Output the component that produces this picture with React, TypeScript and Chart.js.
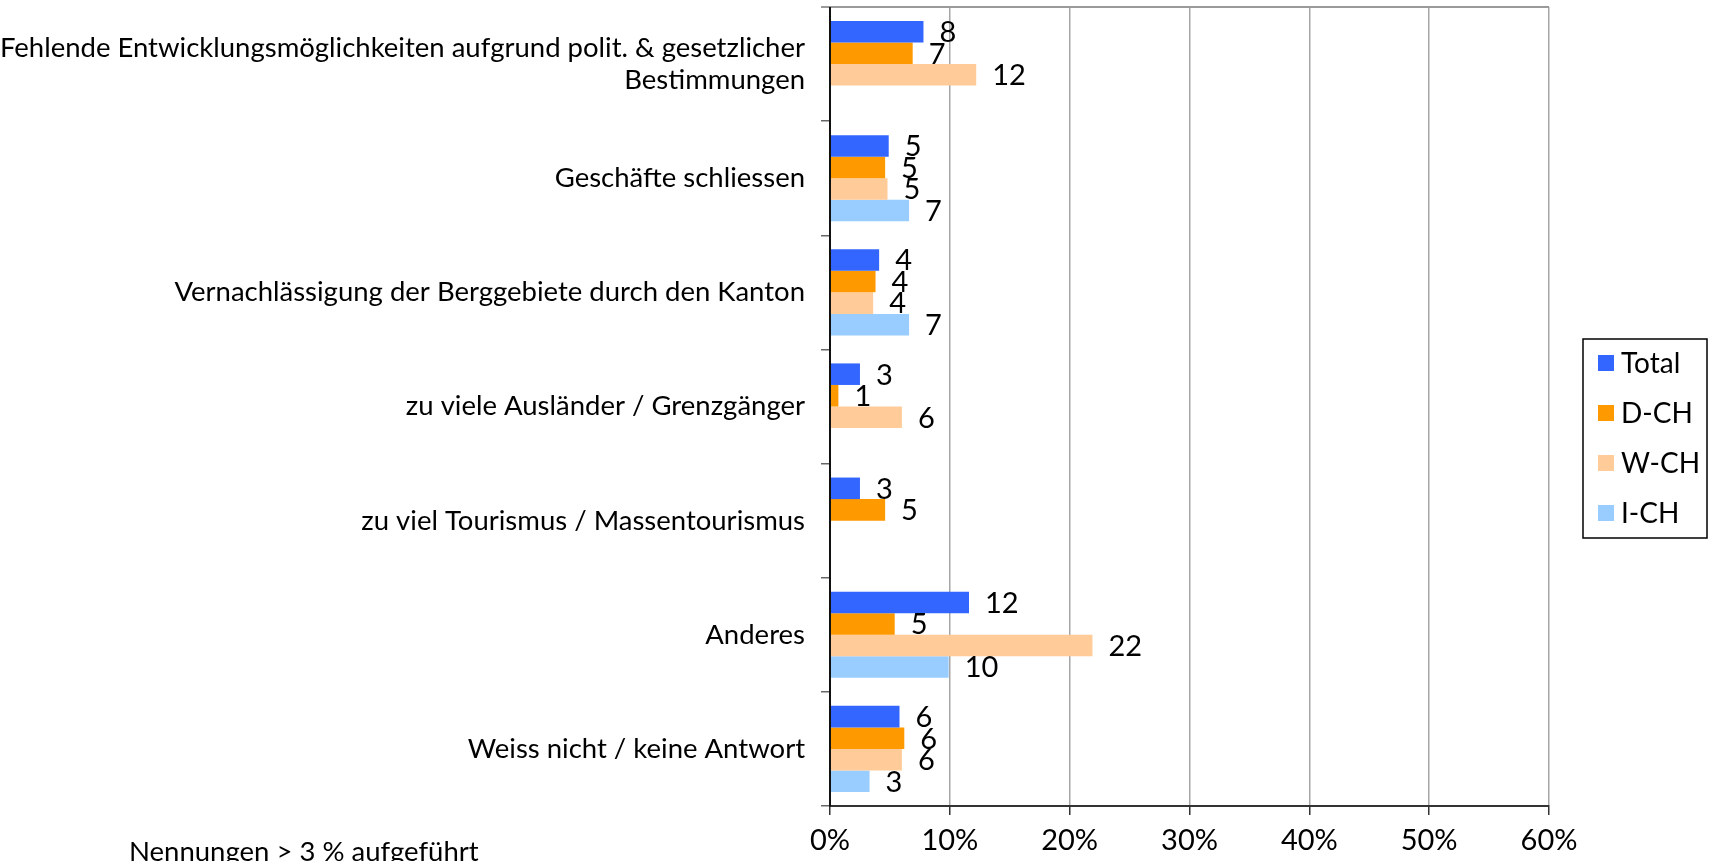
import React, { useEffect, useRef } from "react";
import { Chart, registerables } from "chart.js";

Chart.register(...registerables);

const categories: (string | string[])[] = [
  ["Fehlende Entwicklungsmöglichkeiten aufgrund polit. & gesetzlicher", "Bestimmungen"],
  "Geschäfte schliessen",
  "Vernachlässigung der Berggebiete durch den Kanton",
  "zu viele Ausländer / Grenzgänger",
  "zu viel Tourismus / Massentourismus",
  "Anderes",
  "Weiss nicht / keine Antwort",
];

const seriesNames = ["Total", "D-CH", "W-CH", "I-CH"];
const seriesColors = ["#3366FF", "#FF9900", "#FFCC99", "#99CCFF"];

const totalValues: (number | null)[] = [7.8, 4.9, 4.1, 2.5, 2.5, 11.6, 5.8];
const dchValues: (number | null)[] = [6.9, 4.6, 3.8, 0.7, 4.6, 5.4, 6.2];
const wchValues: (number | null)[] = [12.2, 4.8, 3.6, 6.0, null, 21.9, 6.0];
const ichValues: (number | null)[] = [null, 6.6, 6.6, null, null, 9.9, 3.3];

const xTicks = [0, 10, 20, 30, 40, 50, 60];
const footNote = "Nennungen > 3 % aufgeführt";

const FONT = "Lato, 'Open Sans', sans-serif";
const FS = 27.5;
const FS_NUM = 29;

export default function App() {
  const ref = useRef<HTMLCanvasElement | null>(null);

  useEffect(() => {
    if (!ref.current) return;
    const values = [totalValues, dchValues, wchValues, ichValues];

    const labelPlugin = {
      id: "barLabels",
      afterDatasetsDraw(chart: any) {
        const ctx = chart.ctx;
        ctx.save();
        ctx.font = `${FS_NUM}px ${FONT}`;
        ctx.fillStyle = "#000";
        ctx.textAlign = "left";
        ctx.textBaseline = "middle";
        chart.data.datasets.forEach((ds: any, i: number) => {
          const meta = chart.getDatasetMeta(i);
          meta.data.forEach((bar: any, j: number) => {
            const v = ds.data[j];
            if (v == null) return;
            ctx.fillText(String(Math.round(v)), bar.x + 16, bar.y + 1);
          });
        });
        ctx.restore();
      },
    };

    const framePlugin = {
      id: "frame",
      afterDraw(chart: any) {
        const ctx = chart.ctx;
        const a = chart.chartArea;
        ctx.save();
        ctx.strokeStyle = "#9A9A9A";
        ctx.lineWidth = 2;
        ctx.beginPath();
        ctx.moveTo(a.left - 9, a.top);
        ctx.lineTo(a.right, a.top);
        ctx.stroke();
        ctx.strokeStyle = "#111";
        ctx.lineWidth = 2;
        ctx.beginPath();
        ctx.moveTo(a.left, a.top);
        ctx.lineTo(a.left, a.bottom);
        ctx.stroke();

        const n = chart.data.datasets.length;
        const rowH = 50;
        const boxW = 124;
        const boxH = rowH * n - 1;
        const bx = a.right + 34;
        const by = chart.height / 2 - boxH / 2 + 8;
        ctx.strokeStyle = "#000";
        ctx.lineWidth = 1.5;
        ctx.strokeRect(bx, by, boxW, boxH);
        ctx.font = `${FS + 0.5}px ${FONT}`;
        ctx.textAlign = "left";
        ctx.textBaseline = "middle";
        chart.data.datasets.forEach((ds: any, i: number) => {
          const cy = by + 24 + i * rowH;
          ctx.fillStyle = ds.backgroundColor;
          ctx.fillRect(bx + 15, cy - 8, 16, 16);
          ctx.fillStyle = "#000";
          ctx.fillText(ds.label, bx + 38, cy + 1);
        });

        ctx.font = `${FS}px ${FONT}`;
        ctx.fillStyle = "#000";
        ctx.textBaseline = "alphabetic";
        ctx.fillText(footNote, 129, 861);
        ctx.restore();
      },
    };

    const chart = new Chart(ref.current, {
      type: "bar",
      data: {
        labels: categories,
        datasets: seriesNames.map((name, i) => ({
          label: name,
          data: values[i],
          backgroundColor: seriesColors[i],
          borderWidth: 0,
          categoryPercentage: 0.755,
          barPercentage: 1,
        })),
      },
      options: {
        indexAxis: "y",
        animation: false,
        responsive: true,
        maintainAspectRatio: false,
        layout: { padding: { top: 7, right: 163, left: 0, bottom: 0 } },
        plugins: {
          legend: { display: false },
          tooltip: { enabled: false },
          title: { display: false },
        },
        scales: {
          x: {
            type: "linear",
            min: 0,
            max: 60,
            afterBuildTicks(scale: any) {
              scale.ticks = xTicks.map((v) => ({ value: v }));
            },
            afterFit(scale: any) {
              scale.height = 55;
              scale.paddingLeft = 0;
              scale.paddingRight = 0;
            },
            ticks: {
              callback: (v: any) => `${v}%`,
              font: { family: FONT, size: FS_NUM },
              color: "#000",
              padding: 8,
              maxRotation: 0,
            },
            grid: {
              color: "#A6A6A6",
              lineWidth: 1.5,
              tickLength: 9,
              tickColor: "#333",
            },
            border: { display: true, color: "#333", width: 2 },
          },
          y: {
            type: "category",
            afterFit(scale: any) {
              scale.width = 830;
              scale.paddingTop = 0;
              scale.paddingBottom = 0;
            },
            ticks: {
              font: { family: FONT, size: FS, lineHeight: 1.15 },
              color: "#000",
              padding: 16,
            },
            grid: {
              offset: true,
              drawOnChartArea: false,
              tickLength: 9,
              tickColor: "#666",
              lineWidth: 1.5,
            },
            border: { display: true, color: "#111", width: 2 },
          },
        },
      },
      plugins: [labelPlugin, framePlugin],
    } as any);

    return () => chart.destroy();
  }, []);

  return (
    <div style={{ position: "absolute", left: 0, top: 0, width: 1712, height: 861, background: "#fff" }}>
      <canvas ref={ref} />
    </div>
  );
}
